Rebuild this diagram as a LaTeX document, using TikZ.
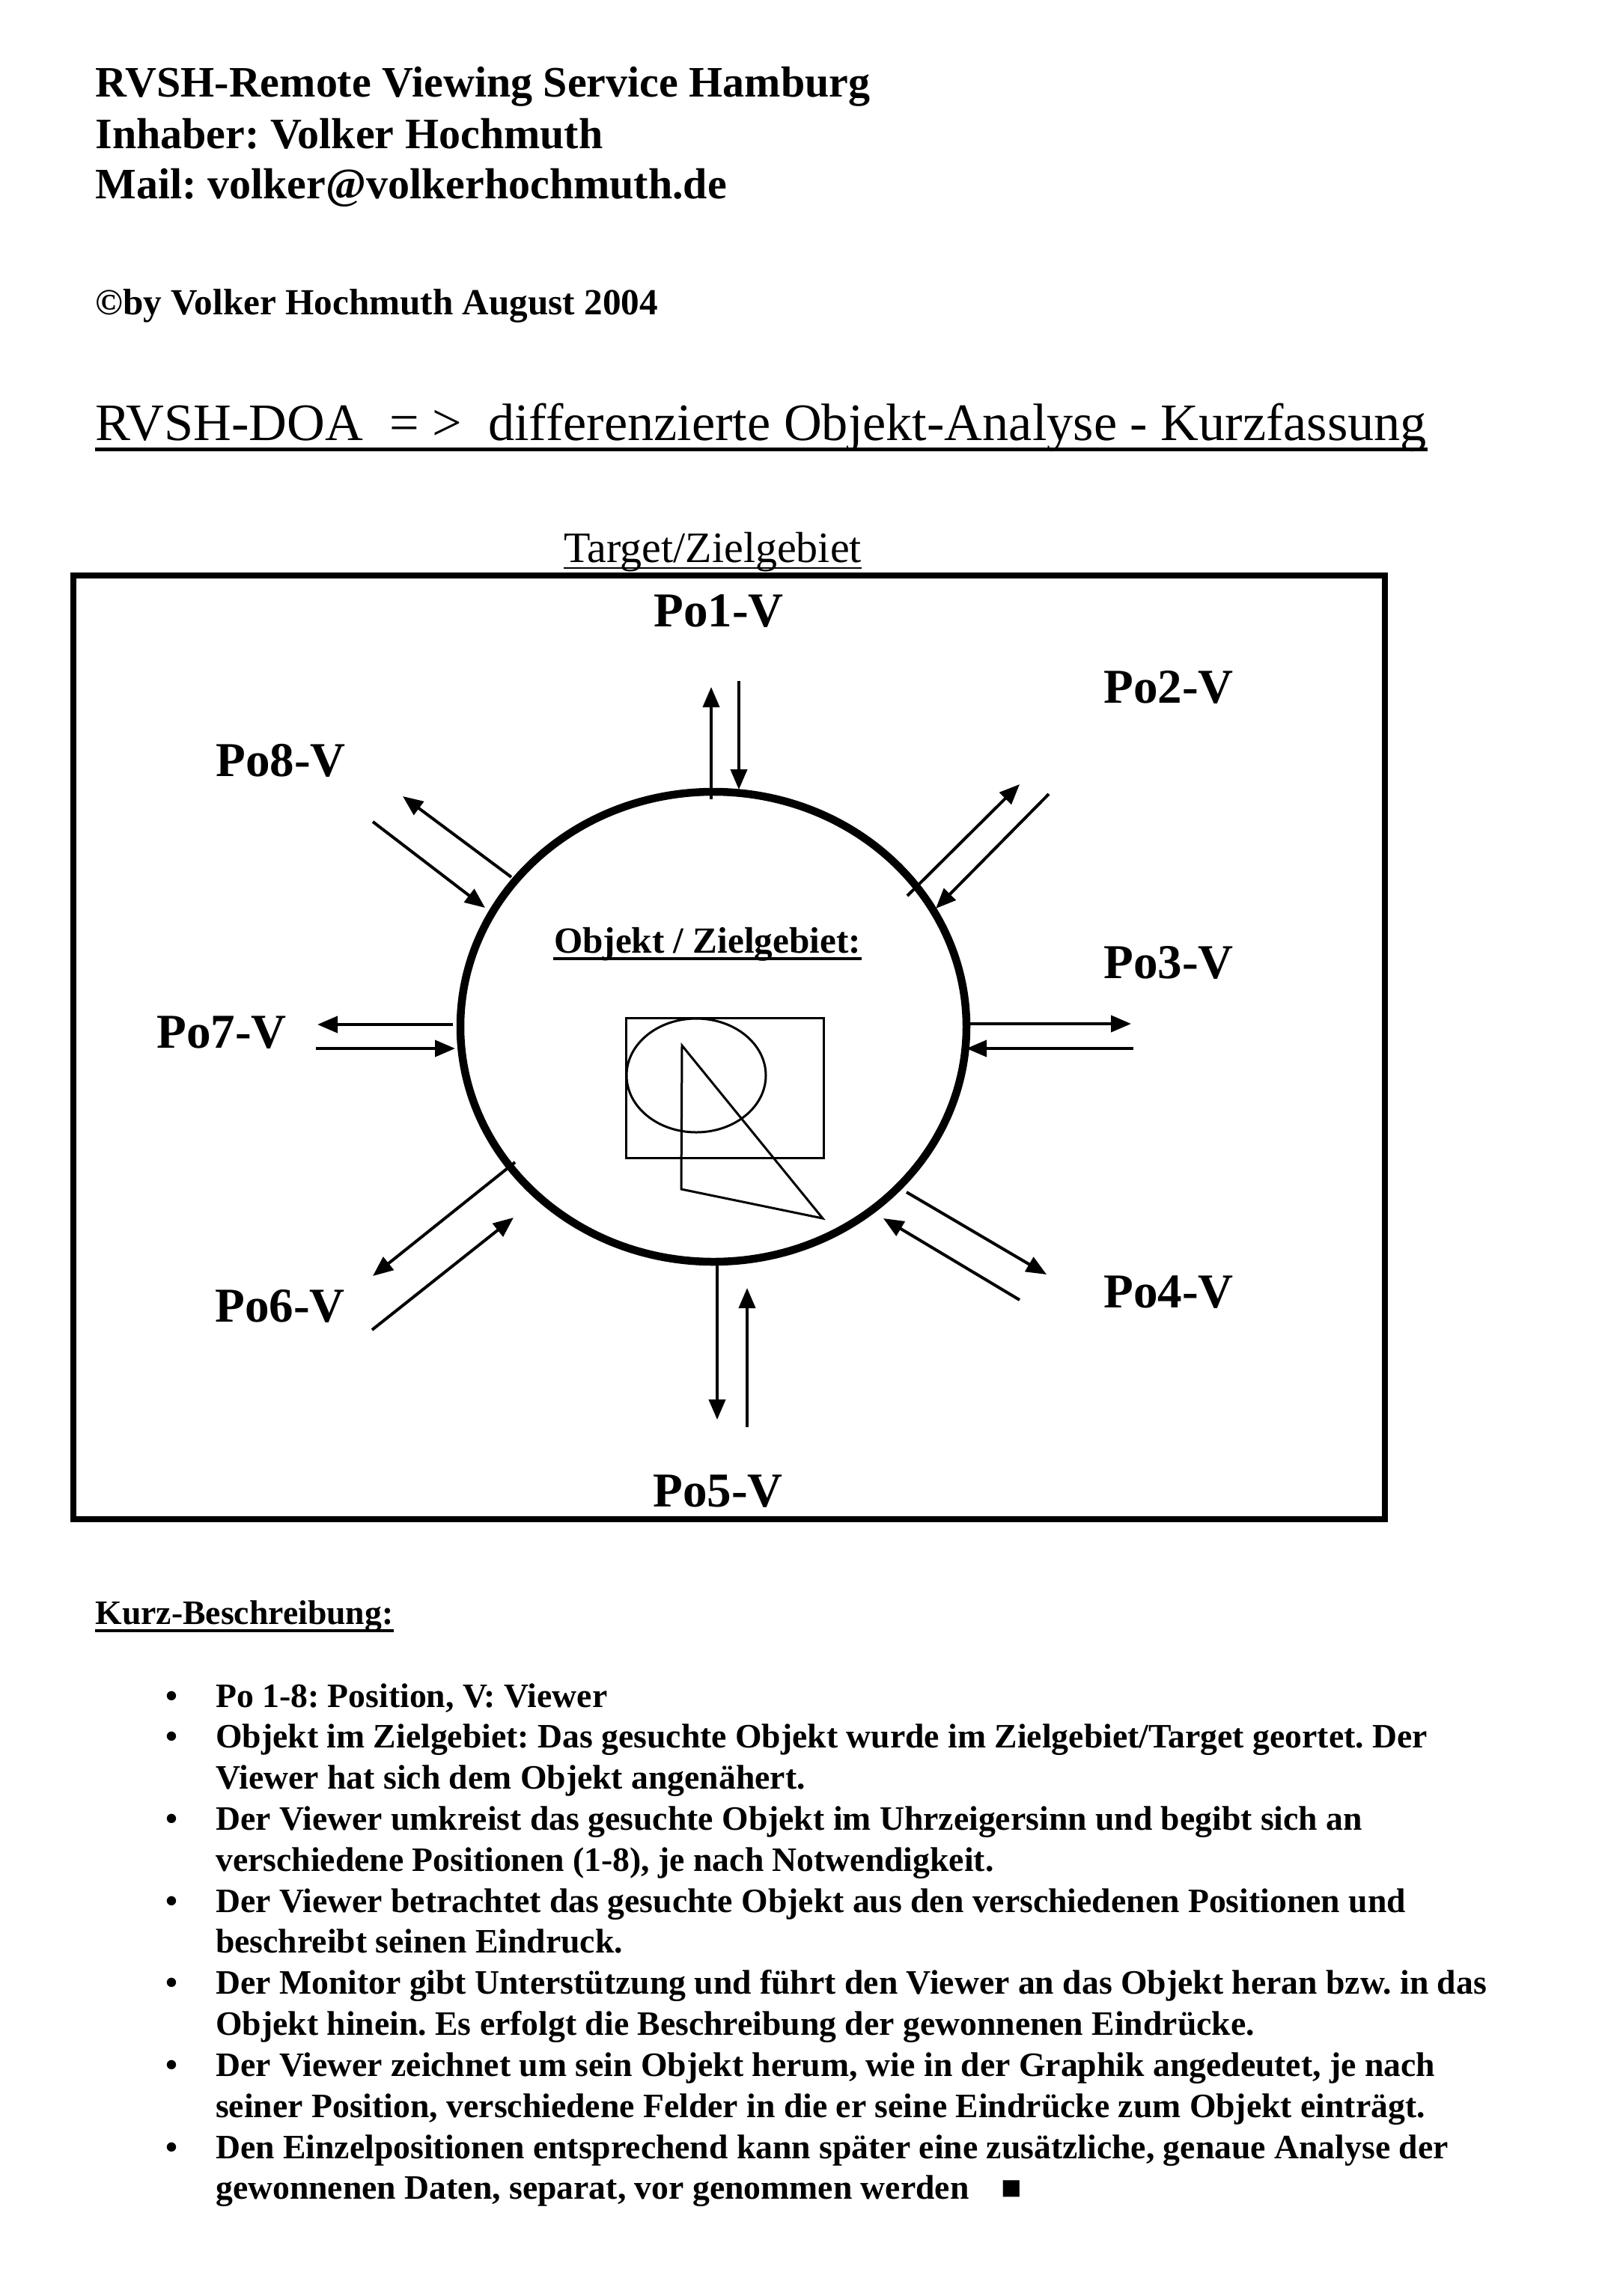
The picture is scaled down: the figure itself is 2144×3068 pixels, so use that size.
\documentclass[tikz,border=0pt]{standalone}
\usepackage{fontspec}
\setmainfont{Liberation Serif}
\usetikzlibrary{arrows.meta}
\frenchspacing

\begin{document}
\begin{tikzpicture}[x=.1mm,y=-.1mm,>={Triangle[length=2.7mm,width=2.2mm]},
    txt/.style={inner sep=0pt,anchor=base west},
    ctr/.style={inner sep=0pt,anchor=base},
    lbl/.style={ctr,font=\fontsize{18.5pt}{22pt}\selectfont\bfseries},
    arr/.style={->,line width=.4mm},
    ul/.style={line width=#1}]
        \fill[white] (0,0) rectangle (2144,3068);
        \useasboundingbox (0,0) rectangle (2144,3068);
        \node[txt,font=\fontsize{16.5pt}{20pt}\selectfont\bfseries] (hdr1) at (127,129) {RVSH-Remote Viewing Service Hamburg};
        \node[txt,font=\fontsize{16.5pt}{20pt}\selectfont\bfseries] (hdr2) at (127,198) {Inhaber: Volker Hochmuth};
        \node[txt,font=\fontsize{16.5pt}{20pt}\selectfont\bfseries] (hdr3) at (127,265) {Mail: volker@volkerhochmuth.de};
        \node[txt,font=\fontsize{14pt}{17pt}\selectfont\bfseries] (copy) at (127,420) {©by Volker Hochmuth August 2004};
        \node[txt,font=\fontsize{20pt}{24pt}\selectfont] (title) at (127,588) {RVSH-DOA~~= >~~differenzierte Objekt-Analyse - Kurzfassung};
        \draw[ul=.5mm] ([yshift=-1.2mm]title.base west) -- ([yshift=-1.2mm]title.base east);
        % target area
        \node[ctr,font=\fontsize{16.5pt}{20pt}\selectfont] (target) at (952,751) {Target/Zielgebiet};
        \draw[ul=.25mm] ([yshift=-.8mm]target.base west) -- ([yshift=-.8mm]target.base east);
        \draw[line width=.75mm] (98,769) rectangle (1850,2030);
        \draw[line width=1.05mm] (953,1372) ellipse [x radius=338, y radius=314];
        \node[ctr,font=\fontsize{14pt}{17pt}\selectfont\bfseries] (obj) at (945,1273) {Objekt / Zielgebiet:};
        \draw[ul=.35mm] ([yshift=-.8mm]obj.base west) -- ([yshift=-.8mm]obj.base east);
        \draw[line width=.3mm] (836,1360) rectangle (1100,1547);
        \draw[line width=.3mm] (930,1437) ellipse [x radius=93, y radius=76];
        \draw[line width=.3mm] (911,1397) -- (910,1589) -- (1099,1628) -- cycle;
        \foreach \n/\x/\y in {1/960/837,2/1561/939,3/1561/1307,4/1561/1747,5/959/2013,6/374/1766,7/296/1400,8/375/1037}
            \node[lbl] (po\n) at (\x,\y) {Po\n-V};
        \foreach \xa/\ya/\xb/\yb in {950/1068/950/918, 987/910/987/1055,
                1212/1197/1362/1048, 1401/1061/1250/1214,
                1292/1368/1511/1368, 1514/1401/1291/1401,
                1211/1593/1398/1703, 1362/1737/1180/1628,
                958/1686/958/1897, 998/1907/998/1721,
                688/1553/498/1705, 497/1777/686/1627,
                605/1369/424/1369, 422/1401/608/1401,
                683/1172/538/1064, 498/1098/648/1213}
            \draw[arr] (\xa,\ya) -- (\xb,\yb);
        % description
        \node[txt,font=\fontsize{13pt}{15.6pt}\selectfont\bfseries] (kurz) at (127,2170) {Kurz-Beschreibung:};
        \draw[ul=.4mm] ([yshift=-.9mm]kurz.base west) -- ([yshift=-.9mm]kurz.base east);
        \node[txt,font=\fontsize{13pt}{15.6pt}\selectfont\bfseries] (list) at (221,2281) {\begin{tabular}[t]{@{}p{6.65mm}@{}l@{}}
            \textbullet & Po 1-8: Position, V: Viewer\\
            \textbullet & Objekt im Zielgebiet: Das gesuchte Objekt wurde im Zielgebiet/Target geortet. Der\\
                        & Viewer hat sich dem Objekt angenähert.\\
            \textbullet & Der Viewer umkreist das gesuchte Objekt im Uhrzeigersinn und begibt sich an\\
                        & verschiedene Positionen (1-8), je nach Notwendigkeit.\\
            \textbullet & Der Viewer betrachtet das gesuchte Objekt aus den verschiedenen Positionen und\\
                        & beschreibt seinen Eindruck.\\
            \textbullet & Der Monitor gibt Unterstützung und führt den Viewer an das Objekt heran bzw. in das\\
                        & Objekt hinein. Es erfolgt die Beschreibung der gewonnenen Eindrücke.\\
            \textbullet & Der Viewer zeichnet um sein Objekt herum, wie in der Graphik angedeutet, je nach\\
                        & seiner Position, verschiedene Felder in die er seine Eindrücke zum Objekt einträgt.\\
            \textbullet & Den Einzelpositionen entsprechend kann später eine zusätzliche, genaue Analyse der\\
                        & gewonnenen Daten, separat, vor genommen werden\hspace{4.3mm}{\fontsize{13pt}{13pt}\selectfont ■}
        \end{tabular}};
\end{tikzpicture}
\end{document}
